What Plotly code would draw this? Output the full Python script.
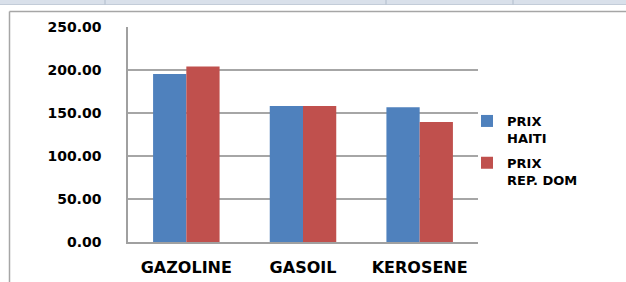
import plotly.graph_objects as go

categories = ["GAZOLINE", "GASOIL", "KEROSENE"]
prix_haiti = [195.3, 158.0, 156.6]
prix_rep_dom = [204.0, 158.0, 139.5]
series_names = ["PRIX<br>HAITI", "PRIX<br>REP. DOM"]
y_ticks = [0, 50, 100, 150, 200, 250]

W, H = 626, 282
L, R, T, B = 128, 148, 27, 40
PW, PH = W - L - R, H - T - B


def px(x):
    return (x - L) / PW


def py(y):
    return (H - B - y) / PH


FONT = "DejaVu Sans"

fig = go.Figure()
fig.add_trace(go.Bar(x=categories, y=prix_haiti, name=series_names[0], legendgroup="a",
                     marker=dict(color="#4f81bd", line=dict(width=0))))
fig.add_trace(go.Bar(x=categories, y=prix_rep_dom, name=series_names[1], legendgroup="b",
                     marker=dict(color="#c0504d", line=dict(width=0))))

shapes = [
    dict(type="rect", xref="paper", yref="paper", x0=px(0), x1=px(W), y0=py(4.5), y1=py(0),
         fillcolor="#d9e0ea", line=dict(width=0), layer="below"),
    dict(type="line", xref="paper", yref="paper", x0=px(0), x1=px(W), y0=py(4.5), y1=py(4.5),
         line=dict(color="#c3ccd8", width=1)),
    dict(type="line", xref="paper", yref="paper", x0=px(9.5), x1=px(W + 5), y0=py(11.5), y1=py(11.5),
         line=dict(color="#a6a6a6", width=1.5)),
    dict(type="line", xref="paper", yref="paper", x0=px(9.5), x1=px(9.5), y0=py(11.5), y1=py(H + 5),
         line=dict(color="#a6a6a6", width=1.5)),
]
for sx in [105, 386, 513]:
    shapes.append(dict(type="line", xref="paper", yref="paper", x0=px(sx), x1=px(sx),
                       y0=py(4.5), y1=py(0), line=dict(color="#b0bccb", width=1)))

fig.update_layout(
    width=W, height=H,
    margin=dict(l=L, r=R, t=T, b=B, pad=0, autoexpand=False),
    paper_bgcolor="white", plot_bgcolor="white",
    barmode="group", bargap=0.43, bargroupgap=0,
    font=dict(family=FONT, color="#000000"),
    showlegend=True,
    legend=dict(x=px(467), xanchor="left", y=py(106), yanchor="top",
                font=dict(family=FONT, size=13, color="#000000", weight="bold"),
                valign="top", tracegroupgap=5, bgcolor="rgba(0,0,0,0)",
                itemwidth=30),
    shapes=shapes,
)
fig.update_xaxes(
    automargin=False,
    showline=True, linecolor="#a0a0a0", linewidth=1.5,
    showgrid=False, ticks="", tickfont=dict(family=FONT, size=16, color="#000000", weight="bold"),
    ticklabelstandoff=10,
)
fig.update_yaxes(
    automargin=False,
    range=[0, 250], tickvals=y_ticks, tickformat=".2f",
    showline=True, linecolor="#a0a0a0", linewidth=1.5,
    showgrid=True, gridcolor="#a6a6a6", gridwidth=1.5, zeroline=False,
    ticks="", tickfont=dict(family=FONT, size=14, color="#000000", weight="bold"),
    ticklabelstandoff=22,
)

fig.write_html("out.html", config={"displayModeBar": False},
               post_script="document.body.style.margin='0';document.body.style.overflow='hidden';")
